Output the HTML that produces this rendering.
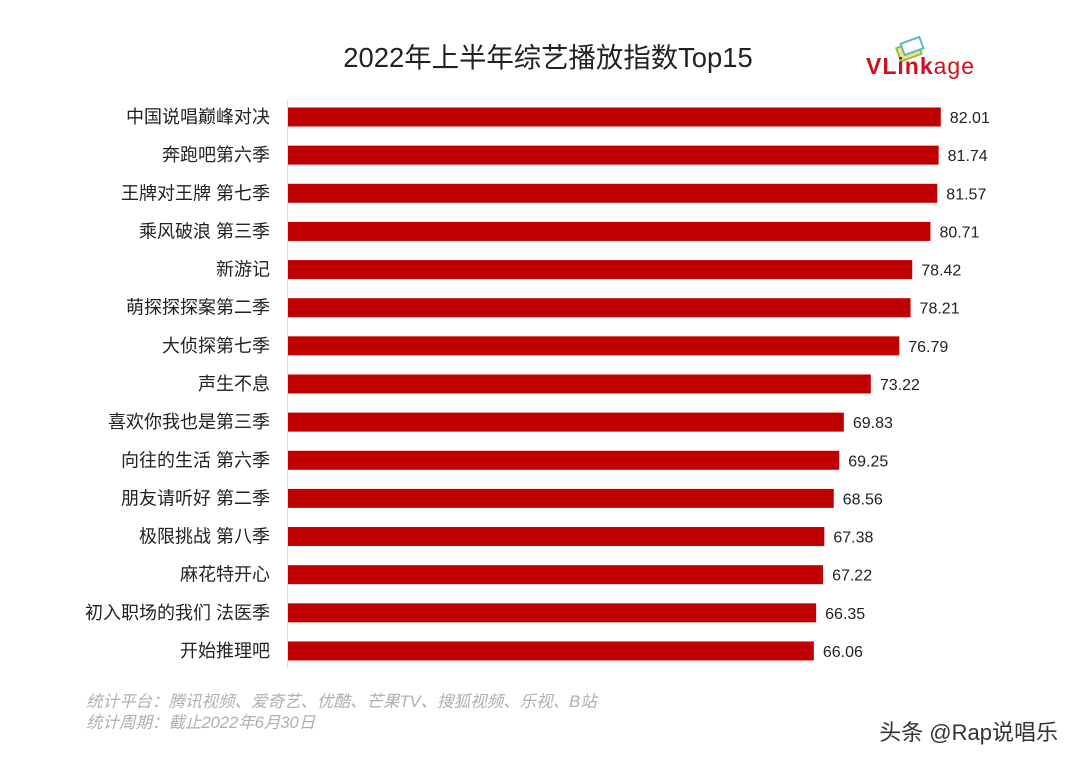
<!DOCTYPE html>
<html><head><meta charset="utf-8"><style>
body{margin:0;background:#fff;width:1080px;height:766px;overflow:hidden;font-family:"Liberation Sans","Noto Sans CJK SC",sans-serif}
</style></head><body>
<svg width="1080" height="766">
<text x="548" y="67" text-anchor="middle" font-size="27.4" fill="#222" font-family="Liberation Sans, Noto Sans CJK SC, sans-serif">2022年上半年综艺播放指数Top15</text>
<g>
<rect x="898" y="44" width="22" height="14" fill="#f4e27a" stroke="#8bc34a" stroke-width="2" transform="rotate(-20 909 51)"/>
<rect x="902" y="40" width="20" height="12" fill="#fff" stroke="#5fb7c8" stroke-width="2" transform="rotate(-20 912 46)"/>
<text x="866" y="74" font-size="23" font-weight="bold" fill="#d0101a" font-family="Liberation Sans, sans-serif" textLength="108">VLink<tspan font-weight="normal">age</tspan></text>
</g>
<line x1="287.5" y1="100" x2="287.5" y2="668" stroke="#d9d9d9"/>
<g id="bars"></g>
<text x="86" y="707" font-size="16.5" font-style="italic" fill="#b0b0b0">统计平台：腾讯视频、爱奇艺、优酷、芒果TV、搜狐视频、乐视、B站</text>
<text x="86" y="728" font-size="16.5" font-style="italic" fill="#b0b0b0">统计周期：截止2022年6月30日</text>
<text x="1058" y="740" text-anchor="end" font-size="22" fill="#333">头条 @Rap说唱乐</text>
</svg>
<script>
const categories=["中国说唱巅峰对决","奔跑吧第六季","王牌对王牌 第七季","乘风破浪 第三季","新游记","萌探探探案第二季","大侦探第七季","声生不息","喜欢你我也是第三季","向往的生活 第六季","朋友请听好 第二季","极限挑战 第八季","麻花特开心","初入职场的我们 法医季","开始推理吧"];
const values=[82.01,81.74,81.57,80.71,78.42,78.21,76.79,73.22,69.83,69.25,68.56,67.38,67.22,66.35,66.06];
const x0=288,scale=7.96,y0=117,step=38.14,bh=19;
const xs=v=>x0+v*scale, ys=i=>y0+i*step;
const g=document.getElementById('bars');
const NS="http://www.w3.org/2000/svg";
categories.forEach((c,i)=>{
 const r=document.createElementNS(NS,'rect');
 r.setAttribute('x',x0);r.setAttribute('y',ys(i)-bh/2);
 r.setAttribute('width',xs(values[i])-x0);r.setAttribute('height',bh);
 r.setAttribute('fill','#c00000');
 
 
 g.appendChild(r);
 const l=document.createElementNS(NS,'text');
 l.setAttribute('x',270);l.setAttribute('y',ys(i)+6);
 l.setAttribute('text-anchor','end');l.setAttribute('font-size','18');l.setAttribute('fill','#222');
 l.textContent=c;
 
 
 g.appendChild(l);
 const v=document.createElementNS(NS,'text');
 v.setAttribute('x',xs(values[i])+9);v.setAttribute('y',ys(i)+6);
 v.setAttribute('font-size','16');v.setAttribute('fill','#222');
 v.textContent=values[i].toFixed(2);
 
 
 g.appendChild(v);
});
</script>
</body></html>
